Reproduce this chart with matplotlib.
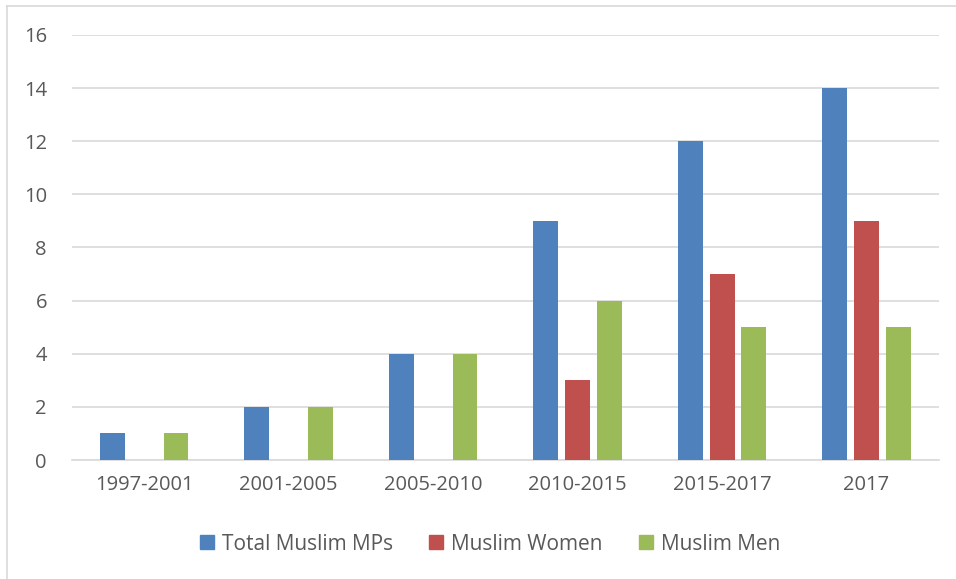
import matplotlib.pyplot as plt
import numpy as np
from matplotlib.lines import Line2D

categories = ['1997-2001', '2001-2005', '2005-2010', '2010-2015', '2015-2017', '2017']
total_mps = [1, 2, 4, 9, 12, 14]
women = [0, 0, 0, 3, 7, 9]
men = [1, 2, 4, 6, 5, 5]
series_names = ['Total Muslim MPs', 'Muslim Women', 'Muslim Men']
colors = ['#4F81BD', '#C0504D', '#9BBB59']

plt.rcParams['font.family'] = ['Open Sans', 'DejaVu Sans']
txt = '#595959'

fig = plt.figure(figsize=(9.56, 5.79), dpi=100)
ax = fig.add_axes([0.0753, 0.2055, 0.9067, 0.7341])

x = np.arange(len(categories))
w = 0.172
step = 0.22
for i, (vals, c) in enumerate(zip([total_mps, women, men], colors)):
    ax.bar(x + (i - 1) * step, vals, width=w, color=c, zorder=3)

ax.set_xlim(-0.5, len(categories) - 0.5)
ax.set_ylim(0, 16)
ax.set_yticks(range(0, 17, 2))
ax.set_xticks(x)
ax.set_xticklabels(categories)
ax.grid(axis='y', color='#D9D9D9', linewidth=1.2, zorder=0)
for s in ['top', 'right', 'left']:
    ax.spines[s].set_visible(False)
ax.spines['bottom'].set_color('#D9D9D9')
ax.spines['bottom'].set_linewidth(1.2)
ax.tick_params(axis='both', length=0, labelsize=14.5, colors=txt)
ax.tick_params(axis='x', pad=11)
ax.tick_params(axis='y', pad=18)

handles = [Line2D([], [], marker='s', linestyle='none', markersize=10, color=c) for c in colors]
leg = fig.legend(handles, series_names, loc='center', bbox_to_anchor=(0.512, 0.06), ncol=3,
                 frameon=False, fontsize=15, handlelength=0.8, handletextpad=0.3,
                 columnspacing=1.7)
for t in leg.get_texts():
    t.set_color(txt)

# chart frame
fig.add_artist(Line2D([7 / 956, 1], [1 - 6 / 579, 1 - 6 / 579], color='#D9D9D9', linewidth=1.2))
fig.add_artist(Line2D([7 / 956, 7 / 956], [0, 1 - 6 / 579], color='#D9D9D9', linewidth=1.2))

fig.savefig('out.png', dpi=100)
